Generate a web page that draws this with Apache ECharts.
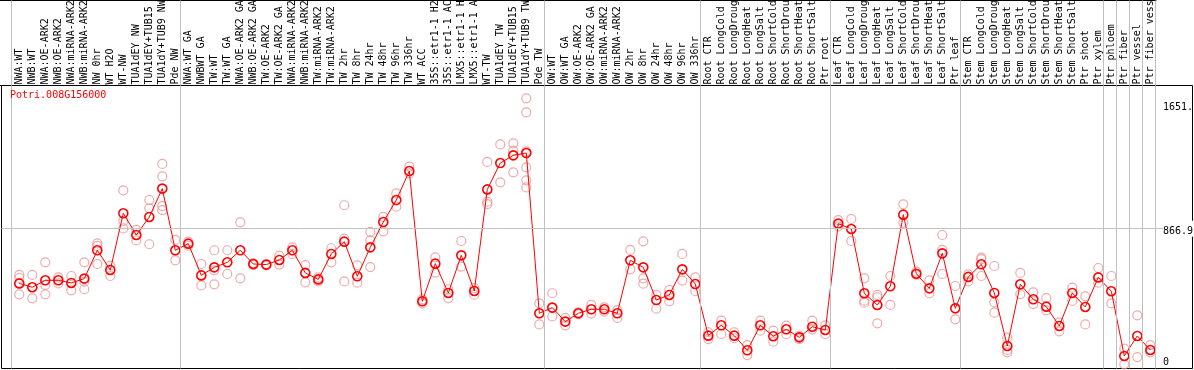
<!DOCTYPE html>
<html><head><meta charset="utf-8">
<script src="https://cdn.jsdelivr.net/npm/echarts@6/dist/echarts.min.js"></script>
<style>html,body{margin:0;padding:0;background:#fff}#chart{width:1194px;height:370px}</style>
</head><body><div id="chart"></div>
<script>
// ---------------- data ----------------
const geneId = 'Potri.008G156000';
const categories = [
  'NWA:WT','NWB:WT','NWA:OE-ARK2','NWB:OE-ARK2','NWA:miRNA-ARK2','NWB:miRNA-ARK2','NW 0hr','WT H2O','WT-NW','TUA1dEY NW','TUA1dEY+TUB15','TUA1dY+TUB9 NW','Pde NW',
  'NWA:WT GA','NWBWT GA','TW:WT','TW:WT GA','NWA:OE-ARK2 GA','NWB:OE-ARK2 GA','TW:OE-ARK2','TW:OE-ARK2 GA','NWA:miRNA-ARK2','NWB:miRNA-ARK2','TW:miRNA-ARK2','TW:miRNA-ARK2','TW 2hr','TW 8hr','TW 24hr','TW 48hr','TW 96hr','TW 336hr','WT ACC','35S::etr1-1 H2O','35S::etr1-1 ACC','LMX5::etr1-1 H2O','LMX5::etr1-1 ACC','WT-TW','TUA1dEY TW','TUA1dEY+TUB15','TUA1dY+TUB9 TW','Pde TW',
  'OW:WT','OW:WT GA','OW:OE-ARK2','OW:OE-ARK2 GA','OW:miRNA-ARK2','OW:miRNA-ARK2','OW 2hr','OW 8hr','OW 24hr','OW 48hr','OW 96hr','OW 336hr',
  'Root CTR','Root LongCold','Root LongDrought','Root LongHeat','Root LongSalt','Root ShortCold','Root ShortDrought','Root ShortHeat','Root ShortSalt','Ptr root',
  'Leaf CTR','Leaf LongCold','Leaf LongDrought','Leaf LongHeat','Leaf LongSalt','Leaf ShortCold','Leaf ShortDrought','Leaf ShortHeat','Leaf ShortSalt','Ptr leaf',
  'Stem CTR','Stem LongCold','Stem LongDrought','Stem LongHeat','Stem LongSalt','Stem ShortCold','Stem ShortDrought','Stem ShortHeat','Stem ShortSalt','Ptr shoot','Ptr xylem',
  'Ptr phloem','Ptr fiber','Ptr vessel','Ptr fiber vessel'
];
// index of the first sample of each group (last entry = end)
const groupStarts = [0, 13, 41, 53, 63, 73, 84, 85, 86, 87, 88];
const meanValues = [
  512, 487, 532, 532, 515, 543, 727, 599, 967, 826, 943, 1127, 727,
  770, 564, 616, 649, 727, 638, 634, 664, 727, 580, 538, 703, 783, 558, 746, 910, 1053, 1241, 396, 640, 450, 694, 463, 1122, 1293, 1343, 1358, 318,
  355, 264, 318, 344, 344, 318, 662, 616, 404, 437, 603, 508,
  173, 240, 173, 78, 240, 169, 214, 162, 231, 210,
  900, 865, 448, 372, 493, 958, 575, 480, 707, 350,
  554, 636, 450, 106, 506, 409, 361, 236, 450, 359, 551,
  461, 41, 171, 80
];
const replicateValues = [
  [567, 547, 441], [567, 415], [649, 502, 441], [551, 512], [560, 467], [649, 523, 474],
  [772, 755, 638], [627, 560], [1116, 917, 869], [859, 791], [1053, 999, 766], [1287, 1207, 1014, 988], [794, 662],
  [783, 757], [638, 499], [727, 597, 506], [727, 573], [908, 545], [642, 630], [634, 629], [692, 634],
  [746, 703], [631, 519], [551, 525], [740, 649], [1019, 802, 525], [629, 517], [846, 791, 618], [943, 850],
  [1096, 1010], [1270, 1226], [383, 408], [681, 582], [474, 417], [787, 621], [482, 439],
  [1300, 1042, 1027], [1414, 1168], [1421, 1373, 1233], [1713, 1622, 1369, 1265, 1181, 1135], [383, 246],
  [448, 298], [288, 240], [324, 313], [372, 316], [357, 329], [339, 288], [729, 603], [785, 545, 510],
  [437, 348], [469, 396], [703, 530], [551, 461],
  [195, 151], [270, 182], [195, 156], [112, 47], [270, 205], [205, 134], [238, 182], [172, 150], [270, 214], [240, 182],
  [923, 882], [930, 787], [545, 400, 387], [437, 422, 253], [560, 372], [1025, 906], [588, 567], [532, 448], [826, 729, 573], [495, 279],
  [571, 525], [679, 670, 560], [625, 389, 322], [160, 80, 65], [580, 443], [454, 378], [417, 337], [259, 201], [484, 398], [428, 246], [612, 517],
  [560, 383], [89, -13], [305, 34], [112, 65]
];
const yTickValues = [0, 866.9, 1651];
const yTickLabels = ['0', '866.9', '1651.'];

// ---------------- layout ----------------
const FONT = 'DejaVu Sans Mono';
const PX0 = 19.3, STEP = 13;          // pixel x of first sample, spacing
const Y0PX = 362.3, YSCALE = 0.15411; // pixel y of value 0, px per unit
function xRange(l, r) { return { min: (l - PX0) / STEP, max: (r - PX0) / STEP }; }
const hdr = { left: 0, right: 1156, top: 0.5, bottom: 85.5 };
const plt = { left: 1.5, right: 1192.5, top: 85.5, bottom: 368.5 };
const hx = xRange(hdr.left, hdr.right), px = xRange(plt.left, plt.right);
const yMin = (Y0PX - plt.bottom) / YSCALE, yMax = (Y0PX - plt.top) / YSCALE;
const sepLines = groupStarts.map(s => ({ xAxis: s - 0.6 }));
const grayLine = { color: '#c0c0c0', width: 1, type: 'solid' };

const repData = [];
replicateValues.forEach((reps, i) => reps.forEach(v => repData.push([i, v])));
const meanData = meanValues.map((v, i) => [i, v]);

const chart = echarts.init(document.getElementById('chart'), null, { renderer: 'canvas' });
chart.setOption({
  animation: false,
  backgroundColor: '#ffffff',
  title: {
    text: geneId, left: 10, top: 90, padding: 0,
    textStyle: { fontFamily: FONT, fontSize: 10, fontWeight: 'normal', color: '#ff0000' }
  },
  grid: [
    { left: hdr.left, width: hdr.right - hdr.left, top: hdr.top, height: hdr.bottom - hdr.top,
      show: false, containLabel: false, outerBoundsMode: 'none' },
    { left: plt.left, width: plt.right - plt.left, top: plt.top, height: plt.bottom - plt.top,
      show: true, borderColor: '#000', borderWidth: 1, backgroundColor: 'transparent',
      containLabel: false, outerBoundsMode: 'none' }
  ],
  xAxis: [
    { gridIndex: 0, type: 'value', min: hx.min, max: hx.max, position: 'bottom',
      axisLine: { show: true, onZero: false, lineStyle: { color: '#000', width: 1 } },
      axisTick: { show: false }, splitLine: { show: false },
      axisLabel: { show: true, inside: true, rotate: 90, margin: 1, hideOverlap: false,
        customValues: categories.map((c, i) => i),
        formatter: v => categories[Math.round(v)],
        fontFamily: FONT, fontSize: 10, color: '#000' } },
    { gridIndex: 0, type: 'value', min: hx.min, max: hx.max, position: 'top',
      axisLine: { show: true, onZero: false, lineStyle: { color: '#000', width: 1 } },
      axisTick: { show: false }, axisLabel: { show: false }, splitLine: { show: false } },
    { gridIndex: 1, type: 'value', min: px.min, max: px.max, show: false, splitLine: { show: false } }
  ],
  yAxis: [
    { gridIndex: 0, type: 'value', min: 0, max: 1, show: false, splitLine: { show: false } },
    { gridIndex: 1, type: 'value', min: yMin, max: yMax, position: 'right',
      offset: -(plt.right - 1163), z: 10,
      axisLine: { show: false }, axisTick: { show: false }, splitLine: { show: false },
      axisLabel: { show: true, margin: 0, customValues: yTickValues,
        formatter: v => {
          const k = yTickValues.indexOf(v);
          return k === 1 ? '{b|' + yTickLabels[k] + '}' : '{a|' + (k >= 0 ? yTickLabels[k] : '') + '}';
        },
        rich: {
          a: { fontFamily: FONT, fontSize: 10, color: '#000' },
          b: { fontFamily: FONT, fontSize: 10, color: '#000', backgroundColor: '#fff', padding: [6, 0, 0, 0] }
        },
        fontFamily: FONT, fontSize: 10, color: '#000' } }
  ],
  series: [
    { type: 'scatter', xAxisIndex: 0, yAxisIndex: 0, data: [[-100, -100]], symbolSize: 0, silent: true,
      markLine: { symbol: ['none', 'none'], silent: true, label: { show: false }, lineStyle: grayLine, data: sepLines } },
    { name: 'replicates', type: 'scatter', xAxisIndex: 2, yAxisIndex: 1, data: repData, z: 2,
      symbol: 'circle', symbolSize: 9,
      itemStyle: { color: 'transparent', borderColor: '#e99696', borderWidth: 1.2 },
      markLine: { symbol: ['none', 'none'], silent: true, label: { show: false }, lineStyle: grayLine,
        data: sepLines.concat([{ yAxis: yTickValues[1] }]) } },
    { name: geneId, type: 'line', xAxisIndex: 2, yAxisIndex: 1, data: meanData, z: 3,
      showSymbol: true, showAllSymbol: true, symbol: 'circle', symbolSize: 9,
      lineStyle: { color: '#ff0000', width: 1 },
      itemStyle: { color: 'transparent', borderColor: '#ff0000', borderWidth: 1.6 } }
  ]
});
</script></body></html>
